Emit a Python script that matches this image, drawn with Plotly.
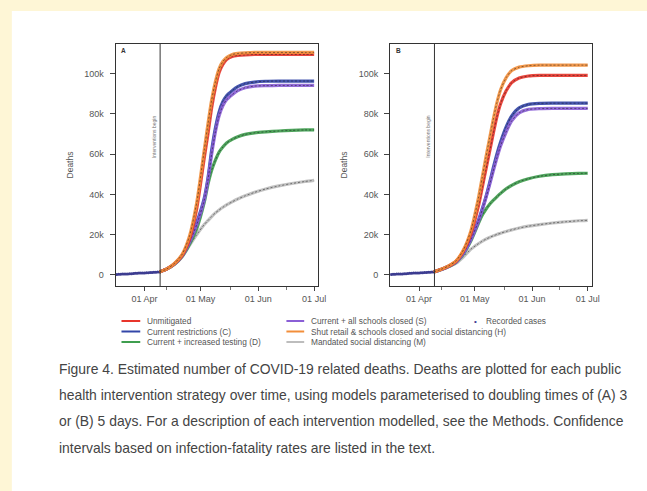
import plotly.graph_objects as go

W, H = 647, 491
def px(x): return x / W
def py(y): return 1 - y / H

# ---------------- data ----------------
dates = ["2020-04-09", "2020-04-13", "2020-04-17", "2020-04-21", "2020-04-25", "2020-04-29",
         "2020-05-03", "2020-05-05", "2020-05-07", "2020-05-09", "2020-05-11", "2020-05-13",
         "2020-05-15", "2020-05-18", "2020-05-21", "2020-05-25", "2020-05-30", "2020-06-05",
         "2020-06-12", "2020-06-19", "2020-06-26", "2020-07-01"]

# thousands of deaths, panel A (doubling time 3 days)
unmit_A   = [1.5, 3.0, 5.5, 9.5, 17.5, 33, 58, 70, 83, 93, 100.5, 104.5, 107, 108.5, 109, 109.3, 109.5, 109.5, 109.5, 109.5, 109.5, 109.5]
restr_A   = [1.5, 3.0, 5.5, 9.5, 16.5, 26, 38, 48, 62, 73, 81, 86, 89, 91.5, 93.5, 95, 95.8, 96.2, 96.3, 96.3, 96.3, 96.3]
testing_A = [1.5, 3.0, 5.3, 9, 15, 23, 36, 45, 52, 57, 61, 63.5, 65.5, 67.3, 68.6, 69.8, 70.6, 71.1, 71.5, 71.8, 72, 72]
schools_A = [1.5, 3.0, 5.4, 9.3, 16, 25, 37, 47, 60, 71, 79, 84, 87, 89.5, 91.5, 93, 93.8, 94, 94.1, 94.1, 94.1, 94.1]
shut_A    = [1.5, 3.0, 5.7, 10, 19, 36, 62, 75, 87, 96, 102.5, 106, 108, 109.5, 110, 110.3, 110.5, 110.5, 110.5, 110.5, 110.5, 110.5]
social_A  = [1.5, 3.0, 5.2, 8.8, 14.5, 20, 25, 27, 29, 30.8, 32.3, 33.6, 34.8, 36.3, 37.7, 39.3, 41, 42.7, 44.2, 45.4, 46.4, 47]

# thousands of deaths, panel B (doubling time 5 days)
unmit_B   = [1.5, 2.8, 4.4, 6.8, 12, 20.5, 34, 43, 52, 61, 70, 78.5, 85, 91.5, 95.5, 97.8, 98.8, 99.1, 99.1, 99.1, 99.1, 99.1]
restr_B   = [1.5, 2.7, 4.3, 6.5, 11, 18, 27, 32.5, 38.5, 45.5, 53, 60, 66, 73.5, 79, 83, 84.7, 85.2, 85.3, 85.3, 85.3, 85.3]
testing_B = [1.5, 2.7, 4.2, 6.3, 10.5, 17, 25.5, 29.5, 32.5, 35, 37, 38.8, 40.5, 42.8, 44.5, 46.3, 47.8, 49, 49.8, 50.2, 50.4, 50.5]
schools_B = [1.5, 2.7, 4.3, 6.4, 10.8, 17.6, 26.5, 32, 38, 44.5, 51.5, 58, 64, 71, 76.5, 80.5, 82.2, 82.6, 82.7, 82.7, 82.7, 82.7]
shut_B    = [1.5, 2.8, 4.5, 7, 12.5, 22, 38, 48, 58, 67.5, 77, 85.5, 92, 98, 101.5, 103.2, 103.9, 104.2, 104.2, 104.2, 104.2, 104.2]
social_B  = [1.5, 2.6, 4.0, 5.8, 9, 12.8, 15.5, 16.7, 17.7, 18.6, 19.4, 20.1, 20.7, 21.6, 22.4, 23.3, 24.2, 25, 25.8, 26.4, 26.9, 27.1]

rec_dates = ["2020-03-17", "2020-03-18", "2020-03-19", "2020-03-20", "2020-03-21", "2020-03-22",
             "2020-03-23", "2020-03-24", "2020-03-25", "2020-03-26", "2020-03-27", "2020-03-28",
             "2020-03-29", "2020-03-30", "2020-03-31", "2020-04-01", "2020-04-02", "2020-04-03",
             "2020-04-04", "2020-04-05", "2020-04-06", "2020-04-07", "2020-04-08", "2020-04-09"]
recorded = [0.2, 0.3, 0.3, 0.4, 0.4, 0.5, 0.5, 0.6, 0.6, 0.7, 0.8, 0.8,
            0.9, 0.9, 1.0, 1.0, 1.1, 1.1, 1.2, 1.2, 1.3, 1.3, 1.4, 1.5]

scenario_names = ["Unmitigated", "Current restrictions (C)", "Current + increased testing (D)",
                  "Current + all schools closed (S)",
                  "Shut retail & schools closed and social distancing (H)",
                  "Mandated social distancing (M)"]
scenario_colors = ["#e8352b", "#3346a8", "#3f9e4f", "#8a5fd6", "#f28e3a", "#bdbdbd"]
panel_A = [unmit_A, restr_A, testing_A, schools_A, shut_A, social_A]
panel_B = [unmit_B, restr_B, testing_B, schools_B, shut_B, social_B]

month_ticks = ["2020-04-01", "2020-05-01", "2020-06-01", "2020-07-01"]
month_labels = ["01 Apr", "01 May", "01 Jun", "01 Jul"]
minor_ticks = ["2020-04-13", "2020-05-17", "2020-06-16"]
y_ticks = [0, 20000, 40000, 60000, 80000, 100000]
y_labels = ["0", "20k", "40k", "60k", "80k", "100k"]
intervention_date = "2020-04-09 08:00"

caption = [
    "Figure 4. Estimated number of COVID-19 related deaths. Deaths are plotted for each public",
    "health intervention strategy over time, using models parameterised to doubling times of (A) 3",
    "or (B) 5 days. For a description of each intervention modelled, see the Methods. Confidence",
    "intervals based on infection-fatality rates are listed in the text.",
]

# ---------------- figure ----------------
FONT = "Liberation Sans, Arial"
YELLOW = "#fef6d6"
fig = go.Figure()
order = [5, 2, 1, 3, 0, 4]
for panel, (xa, ya) in [(panel_A, ("x", "y")), (panel_B, ("x2", "y2"))]:
    fig.add_trace(go.Scatter(x=rec_dates, y=[v * 1000 for v in recorded], mode="lines+markers",
                             line=dict(color="#6a6ac0", width=1.2),
                             marker=dict(color="#3c3c90", size=3), xaxis=xa, yaxis=ya,
                             showlegend=False, hoverinfo="skip"))
    for i in order:
        yv = [v * 1000 for v in panel[i]]
        fig.add_trace(go.Scatter(x=dates, y=yv, mode="lines",
                                 line=dict(color=scenario_colors[i], width=3.2, shape="spline", smoothing=0.6),
                                 opacity=0.9, xaxis=xa, yaxis=ya, showlegend=False, name=scenario_names[i]))
        fig.add_trace(go.Scatter(x=dates, y=yv, mode="lines",
                                 line=dict(color="rgba(20,20,20,0.6)", width=0.8, dash="2px,2px",
                                           shape="spline", smoothing=0.6),
                                 xaxis=xa, yaxis=ya, showlegend=False, hoverinfo="skip"))

tickfont = dict(family=FONT, size=9, color="#555")
xcommon = dict(type="date", range=["2020-03-16 10:00", "2020-07-03 02:00"],
               tickvals=month_ticks, ticktext=month_labels, ticks="outside", ticklen=4,
               tickcolor="#444", showline=True, mirror=True, linecolor="#333", linewidth=1,
               showgrid=False, zeroline=False, tickfont=tickfont,
               minor=dict(tickvals=minor_ticks, ticks="outside", ticklen=2.5, tickcolor="#777"))
ycommon = dict(range=[-5500, 114700], tickvals=y_ticks, ticktext=y_labels, ticks="outside",
               ticklen=5, tickcolor="#444", showline=True, mirror=True, linecolor="#333",
               linewidth=1, showgrid=False, zeroline=False, tickfont=tickfont,
               ticklabelstandoff=4,
               title=dict(text="Deaths", font=dict(family=FONT, size=8.5, color="#555"),
                          standoff=9))

fig.update_layout(
    width=W, height=H, margin=dict(l=0, r=0, t=0, b=0),
    paper_bgcolor="white", plot_bgcolor="white", showlegend=False,
    xaxis=dict(xcommon, domain=[px(117), px(322)], anchor="y"),
    yaxis=dict(ycommon, domain=[py(286), py(44)], anchor="x"),
    xaxis2=dict(xcommon, domain=[px(395), px(599)], anchor="y2"),
    yaxis2=dict(ycommon, domain=[py(286), py(44)], anchor="x2"),
)

# yellow page margins (top band and left band)
shapes = [dict(type="rect", xref="paper", yref="paper", x0=-0.05, x1=1.05, y0=py(11), y1=1.05,
               fillcolor=YELLOW, line=dict(width=0), layer="below"),
          dict(type="rect", xref="paper", yref="paper", x0=-0.05, x1=px(12), y0=-0.05, y1=1.05,
               fillcolor=YELLOW, line=dict(width=0), layer="below")]
for xr, yr in [("x", "y domain"), ("x2", "y2 domain")]:
    shapes.append(dict(type="line", xref=xr, yref=yr, x0=intervention_date, x1=intervention_date,
                       y0=0, y1=1, line=dict(color="#333", width=1)))

def ann(text, x, y, size, color="#555", xanchor="left", **kw):
    d = dict(text=text, x=px(x), y=py(y), xref="paper", yref="paper", xanchor=xanchor,
             yanchor="middle", showarrow=False, font=dict(family=FONT, size=size, color=color))
    d.update(kw)
    return d

annotations = []
for lab, xpx in [("A", 120), ("B", 399)]:
    annotations.append(ann("<b>%s</b>" % lab, xpx, 51, 6.5, "#333"))
for xpx in [156, 433]:
    annotations.append(ann("Interventions begin", xpx, 137, 5, "#777", xanchor="center", textangle=-90))

# legend (manual, three columns)
rows_y = [321, 331.5, 342]
cols = [(123, 142, 147), (290, 308, 313)]
for k, i in enumerate([0, 1, 2, 3, 4, 5]):
    c = cols[k // 3]
    yy = rows_y[k % 3]
    shapes.append(dict(type="line", xref="paper", yref="paper", x0=px(c[0]), x1=px(c[1]),
                       y0=py(yy), y1=py(yy), line=dict(color=scenario_colors[i], width=2)))
    annotations.append(ann(scenario_names[i], c[2], yy, 8.3))
annotations.append(ann("•", 481, 321, 8, "#3c3c90", xanchor="center"))
annotations.append(ann("Recorded cases", 490, 321, 8.3))

for line, yy in zip(caption, [369, 395, 421, 448]):
    annotations.append(ann(line, 58, yy, 13.9, "#444"))

fig.update_layout(shapes=shapes, annotations=annotations)
fig.write_html("out.html", config={"displayModeBar": False},
               post_script="document.documentElement.style.overflow='hidden';"
                           "document.body.style.overflow='hidden';"
                           "document.body.style.margin='0';document.body.style.padding='0';"
                           "document.body.style.background='white';"
                           "document.documentElement.style.background='white';")
